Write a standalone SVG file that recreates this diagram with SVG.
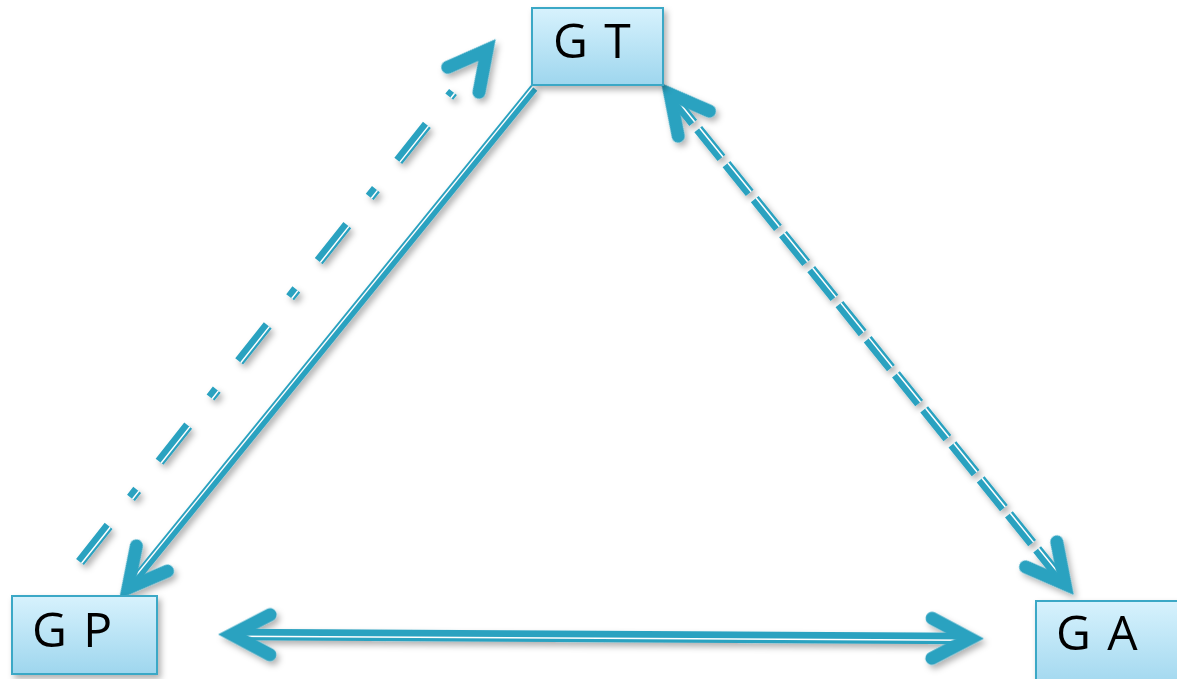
<svg xmlns="http://www.w3.org/2000/svg" xmlns:xlink="http://www.w3.org/1999/xlink" width="1177" height="679" viewBox="0 0 1177 679">
<style>
.ln{fill:none;stroke:#2ba2c0;stroke-linecap:butt}
.wh{fill:none;stroke:#ffffff;stroke-width:1.5;stroke-linecap:butt}
.chev{fill:none;stroke:#2ba2c0;stroke-width:13;stroke-linecap:round;stroke-linejoin:miter;stroke-miterlimit:6}
.box{fill:url(#boxGrad);stroke:#3ba8c6;stroke-width:2}
.lbl{font-family:"Open Sans","DejaVu Sans",sans-serif;font-size:48px;fill:#000000;letter-spacing:2px}
</style>
<defs>
<linearGradient id="boxGrad" x1="0" y1="0" x2="0" y2="1">
<stop offset="0" stop-color="#d7f2fd"/>
<stop offset="1" stop-color="#9ed6ee"/>
</linearGradient>
<filter id="shadow" x="-20%" y="-20%" width="140%" height="140%">
<feDropShadow dx="3" dy="4" stdDeviation="3" flood-color="#000000" flood-opacity="0.3"/>
</filter>
<path id="chev" d="M-38,-20 L0,0 L-38,20"/>
</defs>
<rect width="1177" height="679" fill="#ffffff"/>
<g id="connectors" filter="url(#shadow)">
<g id="c-gt-gp">
<path class="ln" stroke-width="8.5" d="M534,88 L128,588"/>
<path class="wh" d="M532.7,86.9 L126.7,586.9"/>
<use xlink:href="#chev" class="chev" transform="translate(128,588) rotate(129)"/>
</g>
<g id="c-gp-gt">
<path class="ln" stroke-width="10" stroke-dasharray="46 36 10 36" d="M80,562 L453,92"/>
<path class="wh" stroke-dasharray="46 36 10 36" d="M81.6,563.2 L454.6,93.2"/>
<use xlink:href="#chev" class="chev" transform="translate(487,50) rotate(-51.5)"/>
</g>
<g id="c-gt-ga">
<path class="ln" stroke-width="10" stroke-dasharray="37 8" d="M670,94 L1065,584"/>
<path class="wh" stroke-dasharray="37 8" d="M671.4,92.9 L1066.4,582.9"/>
<use xlink:href="#chev" class="chev" transform="translate(670,94) rotate(231.2)"/>
<use xlink:href="#chev" class="chev" transform="translate(1065,584) rotate(51.2)"/>
</g>
<g id="c-gp-ga">
<path class="ln" stroke-width="11.5" d="M232,634.5 L970,638.5"/>
<path class="wh" d="M232,636.3 L970,640.3"/>
<use xlink:href="#chev" class="chev" transform="translate(232,634.5) rotate(180.3)"/>
<use xlink:href="#chev" class="chev" transform="translate(970,638.5) rotate(0.3)"/>
</g>
</g>
<g id="node-gt" filter="url(#shadow)">
<rect class="box" x="532" y="8" width="131" height="77"/>
<text class="lbl" x="553" y="58">G T</text>
</g>
<g id="node-gp" filter="url(#shadow)">
<rect class="box" x="12" y="596" width="145" height="78"/>
<text class="lbl" x="32" y="647">G P</text>
</g>
<g id="node-ga" filter="url(#shadow)">
<rect class="box" x="1036" y="601" width="160" height="90"/>
<text class="lbl" x="1056" y="650">G A</text>
</g>
</svg>
